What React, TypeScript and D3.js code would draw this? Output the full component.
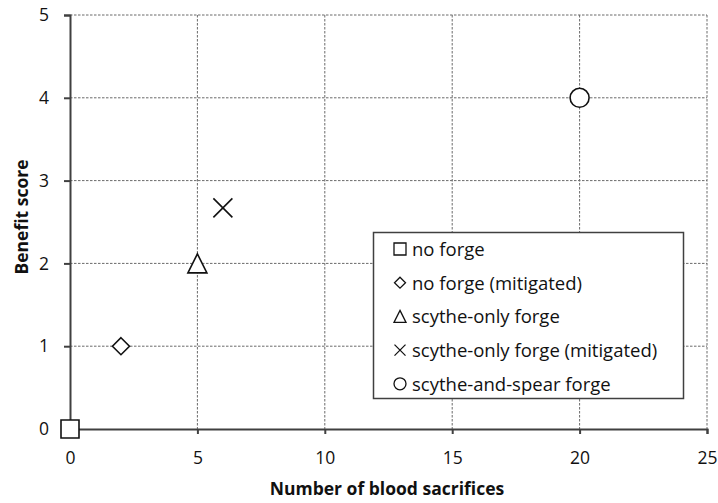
import { useRef, useEffect } from 'react'
import * as d3 from 'd3'

const seriesNames = [
  'no forge',
  'no forge (mitigated)',
  'scythe-only forge',
  'scythe-only forge (mitigated)',
  'scythe-and-spear forge',
]
const sacrifices = [0, 2, 5, 6, 20]
const benefit = [0, 1, 2, 2.67, 4]
const markerKinds = ['square', 'diamond', 'triangle', 'cross', 'circle']
const xTicks = [0, 5, 10, 15, 20, 25]
const yTicks = [0, 1, 2, 3, 4, 5]

const W = 718
const H = 503
const FONT = '"Open Sans", "Liberation Sans", sans-serif'

function markerPath(kind: string, s: number): string {
  const h = s / 2
  switch (kind) {
    case 'square':
      return `M${-h},${-h}H${h}V${h}H${-h}Z`
    case 'diamond':
      return `M0,${-h}L${h},0L0,${h}L${-h},0Z`
    case 'triangle':
      return `M0,${-h}L${h},${h}H${-h}Z`
    case 'cross':
      return `M${-h},${-h}L${h},${h}M${h},${-h}L${-h},${h}`
    default:
      return `M${h},0A${h},${h} 0 1,1 ${-h},0A${h},${h} 0 1,1 ${h},0Z`
  }
}

const plotSize: Record<string, number> = { square: 18, diamond: 17, triangle: 19, cross: 19, circle: 19 }
const legendSize: Record<string, number> = { square: 12, diamond: 11, triangle: 12, cross: 11, circle: 12 }

export default function App() {
  const svgRef = useRef<SVGSVGElement>(null)

  useEffect(() => {
    if (!svgRef.current) return
    const svg = d3.select(svgRef.current)
    svg.selectAll('*').remove()

    const x = d3.scaleLinear().domain([0, 25]).range([70, 707])
    const y = d3.scaleLinear().domain([0, 5]).range([429, 15])

    // grid
    svg.append('g')
      .selectAll('line')
      .data(xTicks.filter((d) => d > 0))
      .join('line')
      .attr('x1', (d) => x(d))
      .attr('x2', (d) => x(d))
      .attr('y1', y(5))
      .attr('y2', y(0))
      .attr('stroke', '#6a6a6a')
      .attr('stroke-width', 1)
      .attr('stroke-dasharray', '2.5,1.5')

    svg.append('g')
      .selectAll('line')
      .data(yTicks.filter((d) => d > 0))
      .join('line')
      .attr('x1', x(0))
      .attr('x2', x(25))
      .attr('y1', (d) => y(d))
      .attr('y2', (d) => y(d))
      .attr('stroke', '#6a6a6a')
      .attr('stroke-width', 1)
      .attr('stroke-dasharray', '2.5,1.5')

    // axes
    const xAxis = svg.append('g')
      .attr('transform', `translate(0,${y(0)})`)
      .call(d3.axisBottom(x).tickValues(xTicks).tickFormat(d3.format('d')).tickSize(5).tickPadding(18))
    const yAxis = svg.append('g')
      .attr('transform', `translate(${x(0)},0)`)
      .call(d3.axisLeft(y).tickValues(yTicks).tickFormat(d3.format('d')).tickSize(6).tickPadding(15))

    for (const ax of [xAxis, yAxis]) {
      ax.attr('font-size', null).attr('font-family', null)
      ax.select('.domain').attr('stroke', '#404040').attr('stroke-width', 2)
      ax.selectAll('line').attr('stroke', '#404040').attr('stroke-width', 2)
      ax.selectAll('text')
        .attr('fill', '#111')
        .attr('font-family', FONT)
        .attr('font-size', '17.5px')
    }

    // axis titles
    svg.append('text')
      .attr('x', 387)
      .attr('y', 495)
      .attr('text-anchor', 'middle')
      .attr('font-family', FONT)
      .attr('font-weight', 'bold')
      .attr('font-size', '17.5px')
      .attr('fill', '#111')
      .text('Number of blood sacrifices')

    svg.append('text')
      .attr('transform', `translate(28,217) rotate(-90)`)
      .attr('text-anchor', 'middle')
      .attr('font-family', FONT)
      .attr('font-weight', 'bold')
      .attr('font-size', '17.5px')
      .attr('fill', '#111')
      .text('Benefit score')

    // points
    svg.append('g')
      .selectAll('path')
      .data(sacrifices.map((v, i) => ({ x: v, y: benefit[i], kind: markerKinds[i] })))
      .join('path')
      .attr('transform', (d) => `translate(${x(d.x)},${y(d.y)})`)
      .attr('d', (d) => markerPath(d.kind, plotSize[d.kind]))
      .attr('fill', (d) => (d.kind === 'cross' ? 'none' : '#fff'))
      .attr('stroke', '#111')
      .attr('stroke-width', 1.6)

    // legend
    const lg = svg.append('g')
    lg.append('rect')
      .attr('x', 373.5)
      .attr('y', 232.5)
      .attr('width', 310)
      .attr('height', 166)
      .attr('fill', '#fff')
      .attr('stroke', '#404040')
      .attr('stroke-width', 1.5)

    const items = lg.selectAll('g.item')
      .data(seriesNames)
      .join('g')
      .attr('class', 'item')
      .attr('transform', (_, i) => `translate(400,${249 + i * 33.7})`)

    items.append('path')
      .attr('d', (_, i) => markerPath(markerKinds[i], legendSize[markerKinds[i]]))
      .attr('fill', (_, i) => (markerKinds[i] === 'cross' ? 'none' : '#fff'))
      .attr('stroke', '#111')
      .attr('stroke-width', 1.3)

    items.append('text')
      .attr('x', 12)
      .attr('y', 7)
      .attr('font-family', FONT)
      .attr('font-size', '18.5px')
      .attr('fill', '#111')
      .text((d) => d)
  }, [])

  return (
    <svg
      ref={svgRef}
      width={W}
      height={H}
      style={{ position: 'absolute', left: 0, top: 0, background: '#fff' }}
    />
  )
}
